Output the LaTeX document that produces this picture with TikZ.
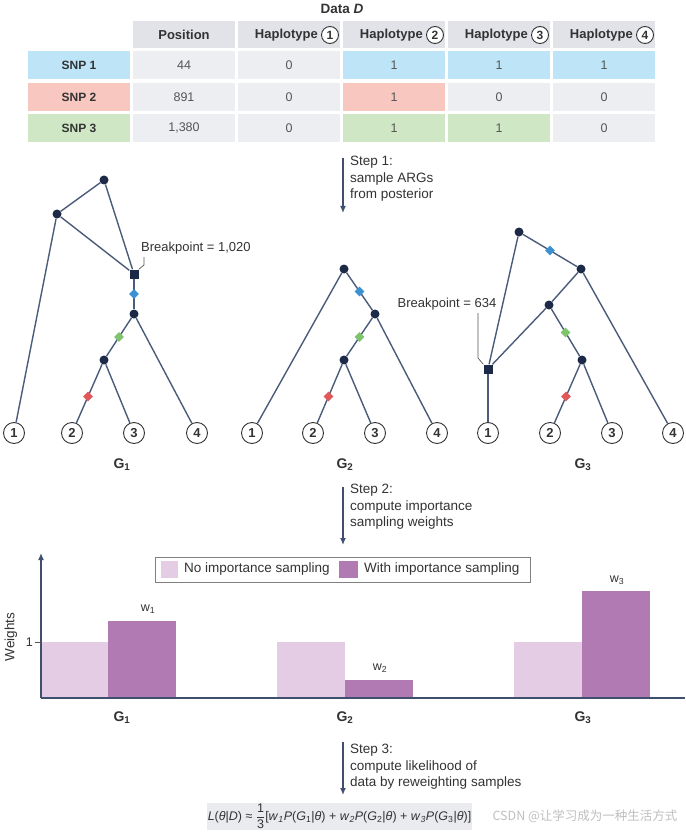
\documentclass[tikz,border=0pt]{standalone}
\usepackage{fontspec}
\setmainfont{Liberation Sans}
\newfontfamily\cjk{Noto Sans CJK SC}
\usepackage{amsmath}
\usetikzlibrary{arrows.meta,calc,shapes.geometric}
\definecolor{navy}{HTML}{1C2A47}
\definecolor{edgec}{HTML}{4B5B7A}
\definecolor{cellg}{HTML}{EDEEF1}
\definecolor{headg}{HTML}{E1E3E8}
\definecolor{snpblue}{HTML}{BDE4F7}
\definecolor{snpred}{HTML}{F8C8C0}
\definecolor{snpgreen}{HTML}{D0E7C6}
\definecolor{dblue}{HTML}{3C91D3}
\definecolor{dgreen}{HTML}{7FC46C}
\definecolor{dred}{HTML}{E0585A}
\definecolor{lpurp}{HTML}{E4CDE4}
\definecolor{dpurp}{HTML}{B27AB3}
\definecolor{txt}{HTML}{333333}
\definecolor{numc}{HTML}{555555}
\definecolor{arrowc}{HTML}{3F4F6E}
\definecolor{formbg}{HTML}{E9EBEF}
\tikzset{
  cell/.style={rectangle,minimum width=102pt,minimum height=28pt,inner sep=0pt,fill=cellg,font=\fontsize{12.5}{14}\selectfont,text=numc},
  hcell/.style={cell,minimum height=27pt,fill=headg},
  htext/.style={font=\bfseries\fontsize{13}{14}\selectfont,text=txt,inner sep=0pt},
  hcirc/.style={circle,draw=txt,fill=white,line width=0.9pt,minimum size=17pt,inner sep=0pt,font=\bfseries\fontsize{12}{12}\selectfont,text=txt},
  lcell/.style={cell,font=\bfseries\fontsize{12}{14}\selectfont,text=txt},
  edge/.style={draw=edgec,line width=1.4pt},
  dot/.style={circle,fill=navy,minimum size=9pt,inner sep=0pt},
  sqnode/.style={rectangle,fill=navy,minimum size=9pt,inner sep=0pt},
  leaf/.style={circle,draw=txt,fill=white,line width=0.9pt,minimum size=21pt,inner sep=0pt,font=\bfseries\fontsize{13}{13}\selectfont,text=txt},
  dia/.style={diamond,minimum width=10pt,minimum height=10pt,inner sep=0pt},
  leader/.style={draw=numc,line width=0.7pt},
  bplabel/.style={font=\fontsize{13}{15}\selectfont,text=txt,inner sep=0pt},
  glabel/.style={font=\bfseries\fontsize{14}{14}\selectfont,text=txt},
  steparrow/.style={draw=arrowc,line width=1.6pt,-{Latex[length=7pt,width=6pt]}},
  steptext/.style={font=\fontsize{13.5}{16.5}\selectfont,text=txt,align=left,inner sep=0pt,anchor=north west},
  legtext/.style={font=\fontsize{13.5}{15}\selectfont,text=txt,inner sep=0pt,anchor=west},
  wlabel/.style={font=\fontsize{12.5}{14}\selectfont,text=txt}
}
\begin{document}
\begin{tikzpicture}[x=1pt,y=-1pt]
\useasboundingbox (0,0) rectangle (685,834);
\fill[white] (0,0) rectangle (685,834);
% ---------- Table ----------
\node[font=\bfseries\fontsize{13.5}{15}\selectfont,text=txt] (title) at (342,9) {Data \textit{D}};
\node[hcell] (h1) at (184,35) {};
\node[htext] (h1t) at (184,35) {Position};
\foreach \i/\x in {1/289,2/394,3/499,4/604}{
  \node[hcell] (h\i c) at (\x,35) {};
  \node[htext,anchor=east] (h\i t) at ($(h\i c.center)+(29,0)$) {Haplotype};
  \node[hcirc] (h\i n) at ($(h\i c.center)+(41,0)$) {\i};
}
% SNP 1
\node[lcell,fill=snpblue] (r1c0) at (79,65.5) {SNP 1};
\node[cell] (r1c1) at (184,65.5) {44};
\node[cell] (r1c2) at (289,65.5) {0};
\node[cell,fill=snpblue] (r1c3) at (394,65.5) {1};
\node[cell,fill=snpblue] (r1c4) at (499,65.5) {1};
\node[cell,fill=snpblue] (r1c5) at (604,65.5) {1};
% SNP 2
\node[lcell,fill=snpred] (r2c0) at (79,97) {SNP 2};
\node[cell] (r2c1) at (184,97) {891};
\node[cell] (r2c2) at (289,97) {0};
\node[cell,fill=snpred] (r2c3) at (394,97) {1};
\node[cell] (r2c4) at (499,97) {0};
\node[cell] (r2c5) at (604,97) {0};
% SNP 3
\node[lcell,fill=snpgreen] (r3c0) at (79,128) {SNP 3};
\node[cell] (r3c1) at (184,128) {1,380};
\node[cell] (r3c2) at (289,128) {0};
\node[cell,fill=snpgreen] (r3c3) at (394,128) {1};
\node[cell,fill=snpgreen] (r3c4) at (499,128) {1};
\node[cell] (r3c5) at (604,128) {0};
% ---------- Step 1 ----------
\coordinate (st1a) at (343,158);
\coordinate (st1b) at (343,213);
\draw[steparrow] (st1a) -- (st1b);
\node[steptext] (st1t) at (350,156) {Step 1:\\sample ARGs\\from posterior};
% ---------- Tree G1 ----------
\node[dot] (a1) at (104,180) {};
\node[dot] (b1) at (57,214) {};
\node[sqnode] (s1) at (134,274) {};
\node[dot] (c1) at (134,314) {};
\node[dot] (d1) at (104,360) {};
\node[leaf] (l11) at (14,433) {1};
\node[leaf] (l12) at (72,433) {2};
\node[leaf] (l13) at (134,433) {3};
\node[leaf] (l14) at (197,433) {4};
\draw[edge] (a1) -- (b1);
\draw[edge] (a1) -- (s1);
\draw[edge] (b1) -- (s1);
\draw[edge] (b1) -- (l11);
\draw[edge] (s1) -- (c1);
\draw[edge] (c1) -- (d1);
\draw[edge] (c1) -- (l14);
\draw[edge] (d1) -- (l12);
\draw[edge] (d1) -- (l13);
\node[dia,fill=dblue] (m1b) at ($(s1)!0.5!(c1)$) {};
\node[dia,fill=dgreen] (m1g) at ($(c1)!0.5!(d1)$) {};
\node[dia,fill=dred] (m1r) at ($(d1)!0.5!(l12)$) {};
\node[bplabel,anchor=west] (bp1) at (141,248) {Breakpoint = 1,020};
\coordinate (bp1a) at (144,257);
\coordinate (bp1b) at (144,265);
\draw[leader] (bp1a) -- (bp1b) -- (s1.north east);
\node[glabel] (g1) at (122,465) {G\textsubscript{1}};
% ---------- Tree G2 ----------
\node[dot] (a2) at (344,269) {};
\node[dot] (c2) at (375,314) {};
\node[dot] (d2) at (344,360) {};
\node[leaf] (l21) at (252,433) {1};
\node[leaf] (l22) at (313,433) {2};
\node[leaf] (l23) at (375,433) {3};
\node[leaf] (l24) at (437,433) {4};
\draw[edge] (a2) -- (l21);
\draw[edge] (a2) -- (c2);
\draw[edge] (c2) -- (l24);
\draw[edge] (c2) -- (d2);
\draw[edge] (d2) -- (l22);
\draw[edge] (d2) -- (l23);
\node[dia,fill=dblue] (m2b) at ($(a2)!0.5!(c2)$) {};
\node[dia,fill=dgreen] (m2g) at ($(c2)!0.5!(d2)$) {};
\node[dia,fill=dred] (m2r) at ($(d2)!0.5!(l22)$) {};
\node[glabel] (g2) at (345,465) {G\textsubscript{2}};
% ---------- Tree G3 ----------
\node[dot] (a3) at (519,232) {};
\node[dot] (b3) at (581,269) {};
\node[dot] (c3) at (549,305) {};
\node[sqnode] (s3) at (488,369) {};
\node[dot] (d3) at (582,360) {};
\node[leaf] (l31) at (488,433) {1};
\node[leaf] (l32) at (550,433) {2};
\node[leaf] (l33) at (612,433) {3};
\node[leaf] (l34) at (673,433) {4};
\draw[edge] (a3) -- (s3);
\draw[edge] (a3) -- (b3);
\draw[edge] (b3) -- (c3);
\draw[edge] (b3) -- (l34);
\draw[edge] (c3) -- (s3);
\draw[edge] (c3) -- (d3);
\draw[edge] (d3) -- (l32);
\draw[edge] (d3) -- (l33);
\draw[edge] (s3) -- (l31);
\node[dia,fill=dblue] (m3b) at ($(a3)!0.5!(b3)$) {};
\node[dia,fill=dgreen] (m3g) at ($(c3)!0.5!(d3)$) {};
\node[dia,fill=dred] (m3r) at ($(d3)!0.5!(l32)$) {};
\node[bplabel] (bp3) at (447,304) {Breakpoint = 634};
\coordinate (bp3a) at (478,313);
\coordinate (bp3b) at (478,358);
\draw[leader] (bp3a) -- (bp3b) -- (s3.north west);
\node[glabel] (g3) at (583,465) {G\textsubscript{3}};
% ---------- Step 2 ----------
\coordinate (st2a) at (343,487);
\coordinate (st2b) at (343,545);
\draw[steparrow] (st2a) -- (st2b);
\node[steptext] (st2t) at (350,484) {Step 2:\\compute importance\\sampling weights};
% ---------- Bar chart ----------
\fill[lpurp] (41,642) rectangle (108,697);
\fill[dpurp] (108,621) rectangle (176,697);
\fill[lpurp] (277,642) rectangle (345,697);
\fill[dpurp] (345,680) rectangle (413,697);
\fill[lpurp] (514,642) rectangle (582,697);
\fill[dpurp] (582,591) rectangle (650,697);
\coordinate (yax0) at (41,698);
\coordinate (yax1) at (41,553);
\coordinate (xax1) at (685,698);
\draw[draw=arrowc,line width=1.6pt,-{Latex[length=7pt,width=6pt]}] (yax0) -- (yax1);
\draw[draw=arrowc,line width=2pt] (yax0) -- (xax1);
\coordinate (tk0) at (35,642);
\coordinate (tk1) at (41,642);
\draw[draw=numc,line width=0.7pt] (tk0) -- (tk1);
\node[wlabel,anchor=east,inner sep=0pt] (one) at (33,642) {1};
\node[font=\fontsize{13.5}{15}\selectfont,text=txt,rotate=90] (wt) at (11,637) {Weights};
\node[wlabel] (w1) at (148,609) {w\textsubscript{1}};
\node[wlabel] (w2) at (380,668) {w\textsubscript{2}};
\node[wlabel] (w3) at (617,580) {w\textsubscript{3}};
% legend
\draw[draw=gray,line width=0.9pt,fill=white] (155,557) rectangle (530,582);
\fill[lpurp] (161,561) rectangle (178,578);
\node[legtext] (lg1) at (184,569.5) {No importance sampling};
\fill[dpurp] (339,561) rectangle (358,578);
\node[legtext] (lg2) at (364,569.5) {With importance sampling};
\node[glabel] (gb1) at (122,718) {G\textsubscript{1}};
\node[glabel] (gb2) at (345,718) {G\textsubscript{2}};
\node[glabel] (gb3) at (583,718) {G\textsubscript{3}};
% ---------- Step 3 ----------
\coordinate (st3a) at (343,742);
\coordinate (st3b) at (343,795);
\draw[steparrow] (st3a) -- (st3b);
\node[steptext] (st3t) at (350,744) {Step 3:\\compute likelihood of\\data by reweighting samples};
% ---------- Formula ----------
\fill[formbg] (207,803) rectangle (472,830);
\node[font=\fontsize{12.5}{14}\selectfont,text=txt,inner sep=0pt] (form) at (339.5,816.5)
 {\textit{L}(\textit{θ}|\textit{D}) ≈ $\genfrac{}{}{0.5pt}{0}{\text{1}}{\text{3}}$[\textit{w}\textsubscript{\textit{1}}\textit{P}(\textit{G}\textsubscript{1}|\textit{θ}) + \textit{w}\textsubscript{\textit{2}}\textit{P}(\textit{G}\textsubscript{2}|\textit{θ}) + \textit{w}\textsubscript{\textit{3}}\textit{P}(\textit{G}\textsubscript{3}|\textit{θ})]};
\node[font=\cjk\fontsize{12.5}{14}\selectfont,text=black!25,inner sep=0pt] (wm) at (585,816) {CSDN @让学习成为一种生活方式};
\end{tikzpicture}
\end{document}
